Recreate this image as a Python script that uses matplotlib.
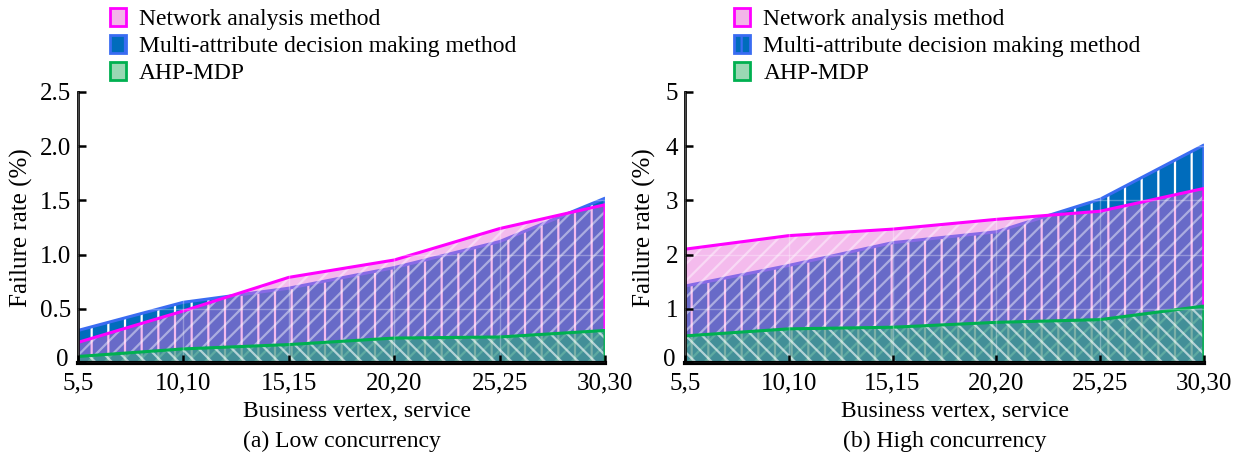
import matplotlib
import numpy as np
import matplotlib.pyplot as plt
import matplotlib.transforms as mtransforms
from matplotlib.patches import Patch
matplotlib.use('Agg')

plt.rcParams['font.family'] = ['Liberation Serif', 'DejaVu Serif']
plt.rcParams['hatch.linewidth'] = 1.6

# Business vertex, service combinations
categories = ["5,5", "10,10", "15,15", "20,20", "25,25", "30,30"]
series_names = ["Network analysis method",
                "Multi-attribute decision making method",
                "AHP-MDP"]

# (a) low concurrency, failure rate in %
low_network = [0.19, 0.48, 0.79, 0.95, 1.24, 1.46]
low_multi = [0.30, 0.56, 0.69, 0.88, 1.12, 1.52]
low_ahp = [0.06, 0.13, 0.17, 0.23, 0.24, 0.30]

# (b) high concurrency, failure rate in %
high_network = [2.10, 2.35, 2.47, 2.65, 2.80, 3.22]
high_multi = [1.42, 1.80, 2.22, 2.42, 3.02, 4.02]
high_ahp = [0.50, 0.63, 0.66, 0.75, 0.80, 1.05]

low_yticks = [0, 0.5, 1.0, 1.5, 2.0, 2.5]
low_ylabels = ["0", "0.5", "1.0", "1.5", "2.0", "2.5"]
high_yticks = [0, 1, 2, 3, 4, 5]
high_ylabels = ["0", "1", "2", "3", "4", "5"]

PINK_LINE = '#ff00ff'
PINK_FILL = '#e868d8'
BLUE_LINE = '#3a6cf2'
BLUE_FILL = '#006cbc'
GREEN_LINE = '#00b050'
GREEN_FILL = '#2aa878'
FS = 18
FS_TXT = 17


def area(ax, x, y, face, line, hatch, alpha):
    ax.fill_between(x, 0, y, facecolor=face, edgecolor='white', hatch=hatch,
                    linewidth=0, alpha=alpha)
    ax.fill_between(x, 0, y, facecolor='none', edgecolor=line, linewidth=2.2)


def draw_panel(ax, network, multi, ahp, yticks, ylabels, caption, leg_x,
               xlab_shift):
    x = np.arange(len(categories))
    area(ax, x, multi, BLUE_FILL, BLUE_LINE, '|', 1.0)
    area(ax, x, network, PINK_FILL, PINK_LINE, '//', 0.45)
    area(ax, x, ahp, GREEN_FILL, GREEN_LINE, '\\\\', 0.6)

    ax.set_xlim(0, len(categories) - 1)
    ax.set_ylim(yticks[0], yticks[-1])
    ax.set_xticks(x)
    ax.set_xticklabels(categories)
    ax.set_yticks(yticks)
    ax.set_yticklabels(ylabels)
    ax.set_axisbelow(False)
    ax.grid(True, color='white', alpha=0.3, linewidth=1)

    for s in ['top', 'right']:
        ax.spines[s].set_visible(False)
    ax.spines['left'].set_linewidth(2)
    ax.spines['bottom'].set_linewidth(3)
    ax.tick_params(direction='in', length=6, width=1.8, labelsize=FS,
                   colors='black')
    ax.tick_params(axis='y', pad=5)
    ax.tick_params(axis='x', pad=7)
    # lift the "0" label a little so it clears the first category label
    zero = ax.get_yticklabels()[0]
    zero.set_transform(zero.get_transform() + mtransforms.ScaledTranslation(
        -2 / 72, 4 / 72, fig.dpi_scale_trans))
    ax.set_ylabel("Failure rate (%)", fontsize=FS, labelpad=5)
    ax.text(0.5 + xlab_shift, -0.18, "Business vertex, service",
            transform=ax.transAxes, ha='center', va='center', fontsize=FS_TXT)
    ax.text(0.5, -0.288, caption, transform=ax.transAxes, ha='center',
            va='center', fontsize=FS_TXT)

    handles = [Patch(facecolor='#f2b6e8', edgecolor=PINK_LINE, linewidth=2),
               Patch(facecolor=BLUE_FILL, edgecolor=BLUE_LINE, linewidth=2,
                     hatch='|'),
               Patch(facecolor='#9ad8b4', edgecolor=GREEN_LINE, linewidth=2)]
    ax.legend(handles, series_names, loc='upper left',
              bbox_to_anchor=(leg_x, 0.99), bbox_transform=fig.transFigure,
              frameon=False, fontsize=FS_TXT, handlelength=0.7,
              handleheight=0.8, handletextpad=0.55, labelspacing=0.2,
              borderpad=0.15, borderaxespad=0)


fig = plt.figure(figsize=(12.41, 4.57), dpi=100)
ax1 = fig.add_axes([0.0628, 0.2057, 0.4247, 0.593])
ax2 = fig.add_axes([0.5520, 0.2057, 0.418, 0.593])

draw_panel(ax1, low_network, low_multi, low_ahp, low_yticks, low_ylabels,
           "(a) Low concurrency", 0.0855, 0.03)
draw_panel(ax2, high_network, high_multi, high_ahp, high_yticks, high_ylabels,
           "(b) High concurrency", 0.5885, 0.02)

fig.savefig("out.png", dpi=100)
